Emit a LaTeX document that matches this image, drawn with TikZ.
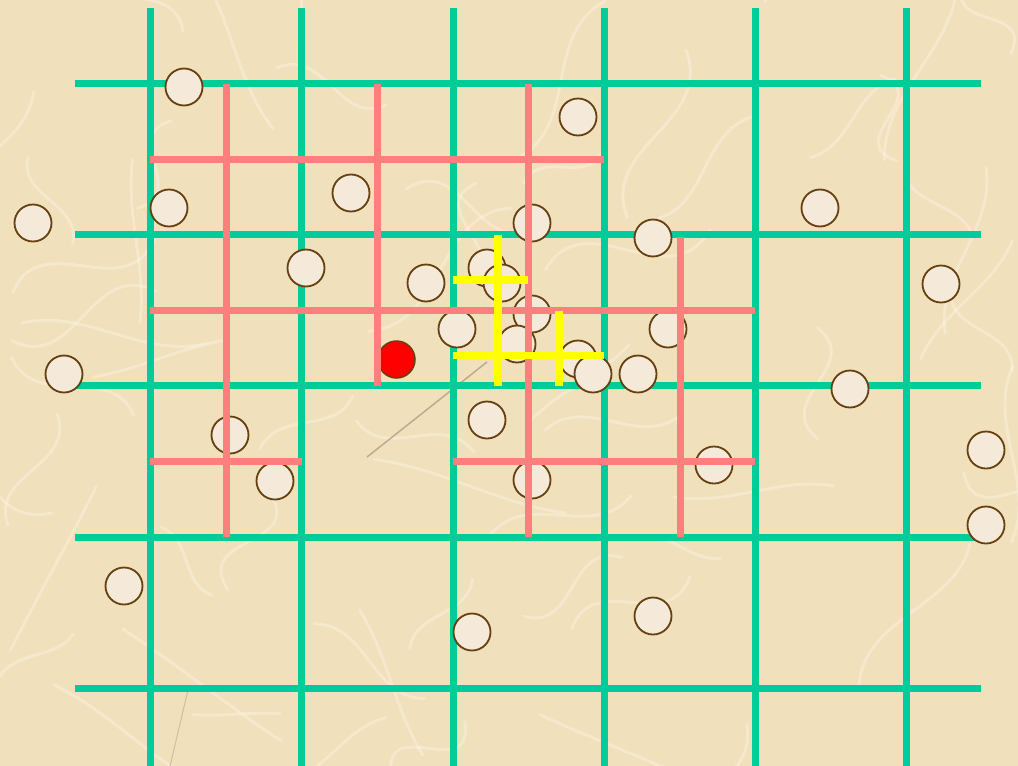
\documentclass[tikz,border=0pt]{standalone}
\usetikzlibrary{calc}
\definecolor{paper}{HTML}{F0E0BC}
\definecolor{gridgreen}{HTML}{00CC99}
\definecolor{gridpink}{HTML}{FF7F7F}
\definecolor{gridyellow}{HTML}{FFFF00}
\definecolor{dotfill}{HTML}{F5E9DA}
\definecolor{dotline}{HTML}{66400F}
\definecolor{fibre}{HTML}{FFF8EA}
\tikzset{
  greenline/.style={gridgreen, line width=7pt},
  pinkline/.style={gridpink, line width=7pt},
  yellowline/.style={gridyellow, line width=7.5pt},
  dot/.style={circle, draw=dotline, fill=dotfill, line width=1.8pt, minimum size=37pt, inner sep=0pt},
  reddot/.style={circle, draw=dotline, fill=red, line width=1.5pt, minimum size=37pt, inner sep=0pt},
  fibreline/.style={fibre, opacity=0.35, line width=3pt, line cap=round}
}
\begin{document}
\begin{tikzpicture}[x=1pt, y=-1pt]
\useasboundingbox (0,0) rectangle (1018,766);
\fill[paper] (0,0) rectangle (1018,766);
% paper fibres
\pgfmathsetseed{23}
\foreach \i in {1,...,60}{
  \pgfmathsetmacro{\xa}{1018*rnd}
  \pgfmathsetmacro{\ya}{766*rnd}
  \pgfmathsetmacro{\ang}{360*rnd}
  \pgfmathsetmacro{\len}{80+120*rnd}
  \pgfmathsetmacro{\bend}{120*rnd-60}
  \pgfmathsetmacro{\xd}{\xa+\len*cos(\ang)}
  \pgfmathsetmacro{\yd}{\ya+\len*sin(\ang)}
  \pgfmathsetmacro{\xb}{\xa+0.33*\len*cos(\ang)-\bend*sin(\ang)}
  \pgfmathsetmacro{\yb}{\ya+0.33*\len*sin(\ang)+\bend*cos(\ang)}
  \pgfmathsetmacro{\xc}{\xa+0.66*\len*cos(\ang)+\bend*sin(\ang)}
  \pgfmathsetmacro{\yc}{\ya+0.66*\len*sin(\ang)-\bend*cos(\ang)}
  \draw[fibreline] (\xa,\ya) .. controls (\xb,\yb) and (\xc,\yc) .. (\xd,\yd);
}
% faint strokes in the paper
\coordinate (s1) at (367,457);
\coordinate (s2) at (487,362);
\draw[color=gray!70!brown, opacity=0.55, line width=1.5pt] (s1) -- (s2);
\coordinate (s3) at (170,766);
\coordinate (s4) at (188,690);
\draw[color=gray!70!brown, opacity=0.35, line width=1pt] (s3) -- (s4);
% green grid
\foreach \x in {150.5,301.5,453,604,755,906}{
  \draw[greenline] (\x,8) -- (\x,766);
}
\foreach \y in {83.5,234.5,385.5,537,688}{
  \draw[greenline] (75,\y) -- (981,\y);
}
% dots
\foreach \n/\x/\y in {
  a/184/87, b/578/117, c/33/223, d/169/208, e/351/193, f/532/223, g/653/238,
  h/820/208, i/306/268, j/426/283, k/487/268, l/502/283, m/941/284,
  n/457/329, o/532/314, p/668/329, q/517/344, r/578/359, s/593/374,
  t/638/374, u/64/374, v/850/389, w/487/420, x/230/435, y/275/481,
  z/532/480, aa/714/465, ab/986/450, ac/986/525, ad/124/586, ae/472/632,
  af/653/616}{
  \node[dot] (dot\n) at (\x,\y) {};
}
\node[reddot] (red) at (396.5,359.5) {};
% pink grid
\draw[pinkline] (226,84) -- (226,537);
\draw[pinkline] (377,84) -- (377,385.5);
\draw[pinkline] (528,84) -- (528,537);
\draw[pinkline] (680,237) -- (680,537);
\draw[pinkline] (150,159) -- (603.5,159);
\draw[pinkline] (150,310.5) -- (755,310.5);
\draw[pinkline] (150,461.5) -- (301.5,461.5);
\draw[pinkline] (453,461.5) -- (755,461.5);
% yellow grid
\draw[yellowline] (498,235) -- (498,386);
\draw[yellowline] (559,311) -- (559,386);
\draw[yellowline] (453,280) -- (528,280);
\draw[yellowline] (453,355.5) -- (604,355.5);
\end{tikzpicture}
\end{document}
